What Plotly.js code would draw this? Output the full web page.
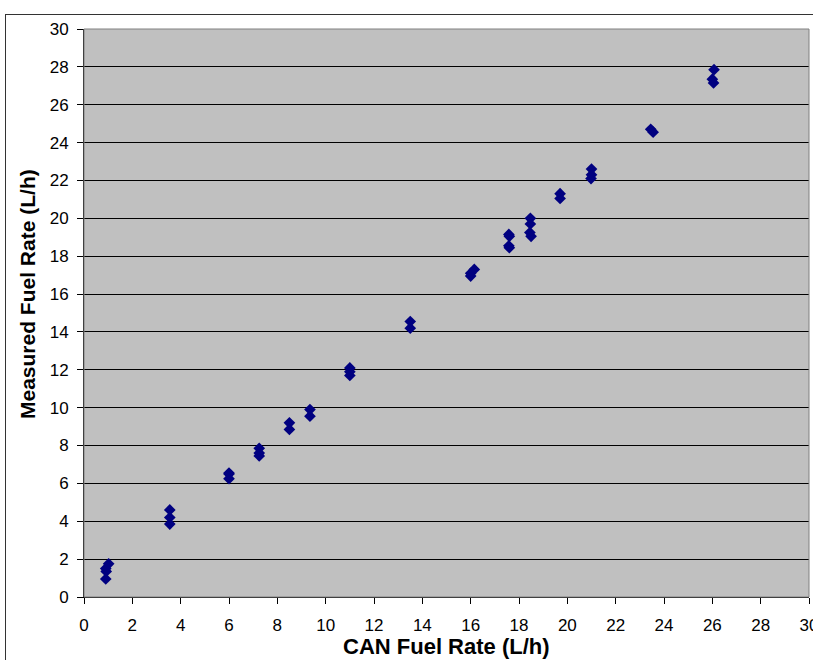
<!DOCTYPE html>
<html>
<head>
<meta charset="utf-8">
<script src="https://cdn.plot.ly/plotly-3.0.1.min.js"></script>
<style>
html,body{margin:0;padding:0;background:#fff;overflow:hidden;}
#frame{position:absolute;left:5px;top:14px;width:900px;height:700px;border:1px solid #333;box-sizing:border-box;pointer-events:none;}
#chart{position:absolute;left:0;top:0;width:813px;height:660px;}
</style>
</head>
<body>
<div id="chart"></div>
<div id="frame"></div>
<script>
const canFuelRate = [0.9,0.92,0.9,1.02, 3.55,3.55,3.55, 6.0,6.0,6.0, 7.25,7.25,7.25, 8.5,8.5, 9.35,9.35, 11.0,11.0,11.0, 13.5,13.5, 16.0,16.15,16.0, 17.58,17.6,17.58,17.6, 18.47,18.47,18.45,18.5, 19.7,19.7, 21.0,21.0,20.98, 23.45,23.55, 26.07,26.0,26.05];
const measuredFuelRate = [0.95,1.35,1.5,1.75, 4.6,4.2,3.85, 6.55,6.5,6.25, 7.85,7.6,7.45, 9.2,8.85, 9.9,9.55, 12.1,11.9,11.7, 14.55,14.2, 17.1,17.3,16.95, 19.15,19.05,18.55,18.45, 20.0,19.7,19.25,19.05, 21.3,21.05, 22.6,22.3,22.1, 24.7,24.55, 27.85,27.35,27.15];
const tickValues = [0,2,4,6,8,10,12,14,16,18,20,22,24,26,28,30];
const xTitle = 'CAN Fuel Rate (L/h)';
const yTitle = 'Measured Fuel Rate (L/h)';

const trace = {
  x: canFuelRate, y: measuredFuelRate, type: 'scatter', mode: 'markers',
  marker: {symbol: 'diamond', size: 9, color: '#000080', line: {width: 0}},
  hoverinfo: 'x+y', cliponaxis: false
};
const layout = {
  width: 813, height: 660,
  margin: {l: 84, r: 4, t: 29, b: 63},
  paper_bgcolor: 'rgba(0,0,0,0)', plot_bgcolor: '#C0C0C0',
  font: {family: 'Liberation Sans, Arial, sans-serif', size: 17, color: '#000'},
  showlegend: false,
  xaxis: {
    range: [0, 30], tickvals: tickValues, ticktext: tickValues.map(String),
    showgrid: false, zeroline: false, showline: true, linecolor: '#000', linewidth: 1,
    ticks: 'outside', ticklen: 6, tickcolor: '#000', tickfont: {size: 17},
    ticklabelstandoff: 7, ticklabeloverflow: 'allow'
  },
  yaxis: {
    range: [0, 30], tickvals: tickValues, ticktext: tickValues.map(String),
    showgrid: true, gridcolor: '#000', gridwidth: 1,
    zeroline: false, showline: true, linecolor: '#000', linewidth: 1,
    ticks: 'outside', ticklen: 6, tickcolor: '#000', tickfont: {size: 17},
    ticklabelstandoff: 5
  },
  annotations: [
    {text: '<b>' + xTitle + '</b>', xref: 'paper', yref: 'paper', x: 0.5, y: -0.0863,
     xanchor: 'center', yanchor: 'middle', showarrow: false, font: {size: 22}},
    {text: '<b>' + yTitle + '</b>', xref: 'paper', yref: 'paper', x: -0.0772, y: 0.5335,
     xanchor: 'center', yanchor: 'middle', textangle: -90, showarrow: false, font: {size: 21}}
  ],
  shapes: [{type: 'rect', xref: 'paper', yref: 'paper', x0: 0, x1: 1, y0: 0, y1: 1,
            line: {color: '#808080', width: 1}, fillcolor: 'rgba(0,0,0,0)'}]
};
Plotly.newPlot('chart', [trace], layout, {displayModeBar: false, staticPlot: true});
</script>
</body>
</html>
